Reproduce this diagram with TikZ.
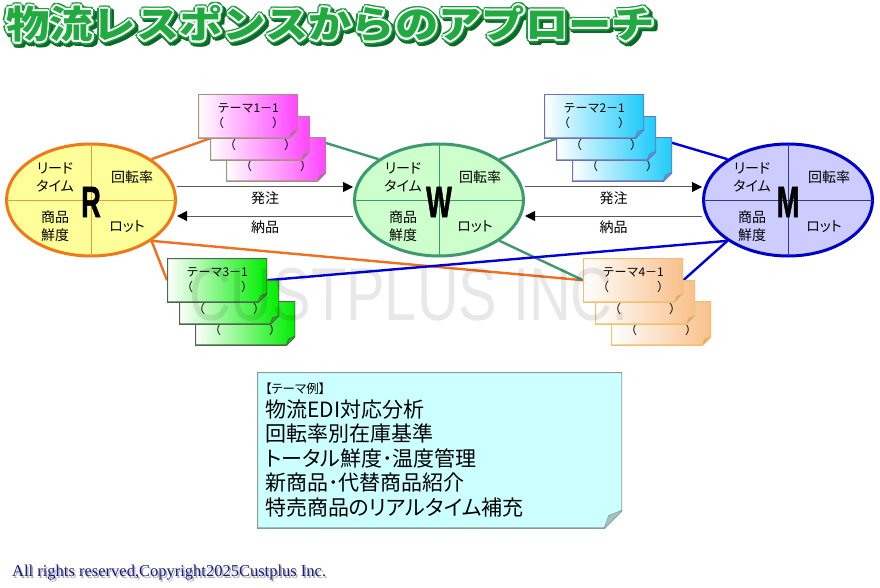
\documentclass[tikz,border=0pt]{standalone}
\usepackage{fontspec}
\usepackage{graphicx}
\setmainfont{Noto Sans CJK JP}
\newfontfamily\pfont{Noto Sans CJK JP}[RawFeature=+palt]
\newfontfamily\latinsans{Liberation Sans}
\newfontfamily\heavy{Liberation Sans}[BoldFeatures={FakeBold=1.5}]
\newfontfamily\latinserif{Liberation Serif}
\usetikzlibrary{arrows.meta,positioning,backgrounds,shapes.geometric}
\definecolor{rfill}{HTML}{FFFF99}
\definecolor{rline}{HTML}{F07818}
\definecolor{rdiv}{HTML}{E0A040}
\definecolor{wfill}{HTML}{CCFFCC}
\definecolor{wline}{HTML}{3C9A6C}
\definecolor{mfill}{HTML}{CCCCFF}
\definecolor{mline}{HTML}{0000CC}
\definecolor{mdiv}{HTML}{333399}
\definecolor{oline}{HTML}{F07020}
\definecolor{bline}{HTML}{0000DD}
\colorlet{c1l}{white}\definecolor{c1f}{HTML}{FF44FF}\definecolor{c1d}{HTML}{A89080}\definecolor{c1k}{HTML}{D050D0}
\colorlet{c2l}{white}\definecolor{c2f}{HTML}{1ECCFA}\definecolor{c2d}{HTML}{7070B8}\definecolor{c2k}{HTML}{4AA0D8}
\colorlet{c3l}{white}\definecolor{c3f}{HTML}{00EE00}\definecolor{c3d}{HTML}{4A6A4A}\definecolor{c3k}{HTML}{30A030}
\colorlet{c4l}{white}\definecolor{c4f}{HTML}{F8C08A}\definecolor{c4d}{HTML}{F0C070}\definecolor{c4k}{HTML}{E8A860}
\definecolor{memol}{HTML}{CCFFFF}\definecolor{memof}{HTML}{CCFFFF}\definecolor{memod}{HTML}{8A9A9A}\definecolor{memok}{HTML}{A0C4C4}
\definecolor{ttlD}{HTML}{0A6A28}
\definecolor{ttlG}{HTML}{199A3A}
\definecolor{ttlF}{HTML}{20AA40}
\definecolor{crB}{HTML}{1C1C78}
\definecolor{crS}{HTML}{A8A8BC}
% folded note: #1 colour prefix, #2 fold size
\newcommand{\dogear}[2]{%
  \def\pb{path picture bounding box}%
  \shade[left color=#1l,right color=#1f] (\pb.north west) -- (\pb.north east) -- ([yshift=#2]\pb.south east) -- ([xshift=-#2]\pb.south east) -- (\pb.south west) -- cycle;
  \draw[#1d,line width=1.6pt] (\pb.north west) -- (\pb.north east) -- ([yshift=#2]\pb.south east) -- ([xshift=-#2]\pb.south east) -- (\pb.south west) -- cycle;
  \fill[#1k] ([yshift=#2]\pb.south east) -- ([xshift=-#2]\pb.south east) -- ([xshift=-0.75*#2,yshift=0.7*#2]\pb.south east) -- cycle;
  \draw[#1d,line width=0.6pt] ([yshift=#2]\pb.south east) -- ([xshift=-0.75*#2,yshift=0.7*#2]\pb.south east) -- ([xshift=-#2]\pb.south east);
}
\newcommand{\ttlstr}{\scalebox{1.14}[1]{物流レスポンスからのアプローチ}}
\tikzset{
  ell/.style={ellipse,minimum width=169,minimum height=112,inner sep=0pt,line width=3pt},
  qt/.style={font=\pfont\fontsize{14}{18}\selectfont,align=center,inner sep=0pt},
  big/.style={font=\heavy\bfseries\fontsize{44}{44}\selectfont,inner sep=0pt},
  card/.style={rectangle,anchor=north west,minimum width=100,minimum height=44,inner sep=0pt,align=center,
    font=\fontsize{12}{15}\selectfont,path picture={\dogear{c#1}{9}}},
  memo/.style={rectangle,anchor=north west,minimum height=156,text width=349,inner xsep=8,inner ysep=0pt,align=left,
    font=\pfont\fontsize{21}{24.5}\selectfont,path picture={\dogear{memo}{18}}},
  ar/.style={draw=black!65,line width=1pt,-{Triangle[length=10pt,width=10pt,color=black]}},
  lab/.style={font=\fontsize{14}{16}\selectfont,inner sep=1pt},
  oc/.style={draw=oline,line width=2.4pt},
  gc/.style={draw=wline,line width=2.4pt},
  bc/.style={draw=bline,line width=2.4pt},
  ttl/.style={anchor=west,inner sep=0pt,font=\bfseries\fontsize{38}{38}\selectfont},
  wm/.style={font=\latinsans\fontsize{75}{75}\selectfont,text opacity=0.09,inner sep=0pt},
  cr/.style={anchor=west,inner sep=0pt,font=\latinserif\fontsize{16.5}{18}\selectfont},
}
\begin{document}
\begin{tikzpicture}[x=1pt,y=-1pt]
\useasboundingbox (0,0) rectangle (880,588);
% title with outline and shadow
\coordinate (tp) at (6,24);
\coordinate (tq) at (8.5,26.5);
\foreach \a in {0,30,...,330} \node[ttl,text=ttlD] (tsh\a) at ([shift={(\a:3.5)}]tq) {\ttlstr};
\foreach \a in {0,30,...,330} \node[ttl,text=ttlG] (tog\a) at ([shift={(\a:3.5)}]tp) {\ttlstr};
\foreach \a in {0,30,...,330} \node[ttl,text=white] (twh\a) at ([shift={(\a:1.8)}]tp) {\ttlstr};
\node[ttl,text=ttlF] (title) at (tp) {\ttlstr};
% R, W, M
\foreach \e/\x/\fc/\lc/\dc in {R/91/rfill/rline/rdiv,W/439/wfill/wline/wline,M/788/mfill/mline/mdiv}{
  \node[ell,fill=\fc,draw=\lc] (\e) at (\x,200) {};
  \draw[\dc,line width=1pt,shorten <=1.5pt,shorten >=1.5pt] (\e.north) -- (\e.south);
  \draw[\dc,line width=1pt,shorten <=1.5pt,shorten >=1.5pt] (\e.west) -- (\e.east);
  \node[big] (\e0) at ([yshift=-2]\e.center) {\scalebox{0.62}[1]{\e}};
  \node[qt] (\e1) at ([shift={(-36,-23)}]\e.center) {リード\\タイム};
  \node[qt] (\e2) at ([shift={(41,-23)}]\e.center) {回転率};
  \node[qt] (\e3) at ([shift={(-36,26)}]\e.center) {商品\\鮮度};
  \node[qt] (\e4) at ([shift={(36,27)}]\e.center) {ロット};
}
% theme cards
\foreach \n/\x/\y in {1/198/94,2/544/94,3/167/258,4/583/258}{
  \node[card=\n] (t\n3) at (\x+28,\y+43) {\phantom{テ}\\（　　　　）};
  \node[card=\n] (t\n2) at (\x+12,\y+22) {\phantom{テ}\\（　　　　）};
  \node[card=\n] (t\n1) at (\x,\y) {テーマ\n－1\\（　　　　）};
}
\begin{scope}[on background layer]
\fill[white] (0,0) rectangle (880,588);
\draw[oc] (R.34) -- ([xshift=12]t11.south west);
\draw[gc] (t12.east) -- (W.146);
\draw[gc] (W.34) -- ([xshift=13]t21.south west);
\draw[bc] (t22.east) -- (M.146);
\draw[oc] (R.-34) -- (t31.west);
\draw[oc] (R.-34) -- (t41.west);
\draw[gc] (W.-34) -- (t41.west);
\draw[bc] (M.214) -- (t31.east);
\draw[bc] (M.214) -- (t41.east);
\end{scope}
% order / delivery
\draw[ar] ([yshift=13]R.east) -- ([yshift=13]W.west) node[lab,midway,below=3pt] (o1) {発注};
\draw[ar] ([yshift=-16]W.west) -- ([yshift=-16]R.east) node[lab,midway,below=3pt] (d1) {納品};
\draw[ar] ([yshift=13]W.east) -- ([yshift=13]M.west) node[lab,midway,below=3pt] (o2) {発注};
\draw[ar] ([yshift=-16]M.west) -- ([yshift=-16]W.east) node[lab,midway,below=3pt] (d2) {納品};
% examples
\node[memo] (ex) at (257,372) {{\fontsize{12.5}{14}\selectfont 【テーマ例】}\\[-1pt]
物流EDI対応分析\\
回転率別在庫基準\\
トータル鮮度･温度管理\\
新商品･代替商品紹介\\
特売商品のリアルタイム補充};
\node[cr,text=crS] (crs) at (13.5,574.5) {All rights reserved,Copyright2025Custplus Inc.};
\node[cr,text=crB] (cr) at (12,573) {All rights reserved,Copyright2025Custplus Inc.};
\node[wm] (wmk) at (409,295) {\scalebox{0.77}[1]{CUSTPLUS INC.}};
\end{tikzpicture}
\end{document}
